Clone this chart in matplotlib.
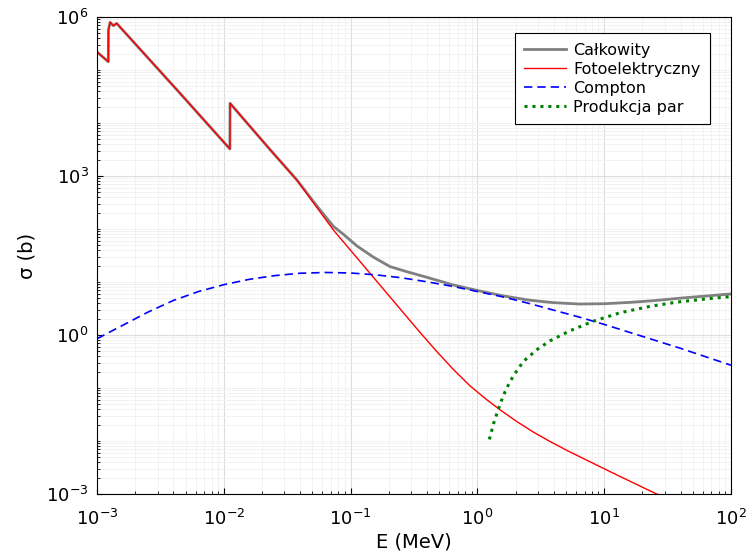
import matplotlib
matplotlib.use("Agg")
import matplotlib.pyplot as plt
import numpy as np

# values, stored as log10(E [MeV]) and log10(sigma [b])
photo_logE = [-3.0, -2.911, -2.910, -2.897, -2.871, -2.845, -2.345, -1.952, -1.951,
              -1.636, -1.425, -1.136, -0.847, -0.715, -0.584, -0.453, -0.321, -0.19,
              -0.058, 0.073, 0.178, 0.309, 0.44, 0.573, 0.704, 0.835, 0.967, 1.098,
              1.23, 1.4, 2.0]
photo_logS = [5.34, 5.157, 5.755, 5.90, 5.836, 5.88, 4.56, 3.51, 4.372,
              3.50, 2.925, 1.981, 1.164, 0.79, 0.42, 0.05, -0.31, -0.65,
              -0.96, -1.22, -1.41, -1.63, -1.83, -2.01, -2.175, -2.33, -2.485, -2.638,
              -2.79, -2.985, -3.6]

total_logE = [-3.0, -2.911, -2.910, -2.897, -2.871, -2.845, -2.345, -1.952, -1.951,
              -1.636, -1.425, -1.268, -1.136, -1.057, -0.95, -0.821, -0.689, -0.55,
              -0.4, -0.2, 0.0, 0.2, 0.4, 0.6, 0.8, 1.0, 1.2, 1.4,
              1.6, 1.8, 2.0]
total_logS = [5.34, 5.157, 5.755, 5.90, 5.836, 5.88, 4.56, 3.51, 4.372,
              3.50, 2.93, 2.44, 2.05, 1.90, 1.68, 1.47, 1.29, 1.19,
              1.09, 0.95, 0.84, 0.74, 0.66, 0.61, 0.585, 0.59, 0.615, 0.65,
              0.695, 0.735, 0.775]

compton_logE = [-3.0, -2.8, -2.6, -2.4, -2.2, -2.0, -1.8, -1.6, -1.4, -1.2, -1.0,
                -0.8, -0.6, -0.4, -0.2, 0.0, 0.2, 0.4, 0.6, 0.8, 1.0, 1.2, 1.4,
                1.6, 1.8, 2.0]
compton_logS = [-0.07, 0.18, 0.43, 0.65, 0.82, 0.95, 1.05, 1.12, 1.165, 1.18, 1.17,
                1.135, 1.08, 1.005, 0.92, 0.82, 0.72, 0.60, 0.47, 0.34, 0.20, 0.05, -0.10,
                -0.25, -0.41, -0.57]

pair_logE = [0.094, 0.13, 0.165, 0.2, 0.231, 0.283, 0.362, 0.467, 0.573, 0.73, 0.914,
             1.125, 1.36, 1.572, 1.8, 2.0]
pair_logS = [-1.97, -1.65, -1.40, -1.17, -1.0, -0.77, -0.50, -0.28, -0.11, 0.08, 0.26,
             0.42, 0.54, 0.62, 0.68, 0.725]

fig, ax = plt.subplots(figsize=(7.47, 5.58), dpi=100)
fig.subplots_adjust(left=0.1299, right=0.9786, top=0.9695, bottom=0.1147)

ax.plot(10**np.array(total_logE), 10**np.array(total_logS), color="gray", lw=2.0,
        label="Całkowity")
ax.plot(10**np.array(photo_logE), 10**np.array(photo_logS), color="red", lw=1.0,
        label="Fotoelektryczny")
ax.plot(10**np.array(compton_logE), 10**np.array(compton_logS), color="blue", lw=1.2,
        ls=(0, (5, 3)), label="Compton")
ax.plot(10**np.array(pair_logE), 10**np.array(pair_logS), color="green", lw=2.2,
        ls=(0, (1, 1.6)), label="Produkcja par")

ax.set_xscale("log")
ax.set_yscale("log")
ax.set_xlim(1e-3, 1e2)
ax.set_ylim(1e-3, 1e6)
ax.set_yticks([1e-3, 1e0, 1e3, 1e6])
ax.set_xticks([1e-3, 1e-2, 1e-1, 1e0, 1e1, 1e2])
ax.yaxis.set_minor_locator(matplotlib.ticker.LogLocator(base=10, subs=np.arange(1, 10), numticks=100))
ax.xaxis.set_minor_locator(matplotlib.ticker.LogLocator(base=10, subs=np.arange(2, 10), numticks=100))
ax.yaxis.set_minor_formatter(matplotlib.ticker.NullFormatter())

ax.grid(True, which="major", color="#dcdcdc", lw=0.8)
ax.grid(True, which="minor", color="#f0f0f0", lw=0.6)
ax.set_axisbelow(True)

ax.tick_params(which="both", direction="in", labelsize=13, top=False, right=False)
ax.tick_params(which="major", length=4)
ax.tick_params(which="minor", length=2)
ax.tick_params(axis="y", pad=6)
ax.tick_params(axis="x", pad=11)

ax.set_xlabel("E (MeV)", fontsize=14, labelpad=2)
ax.set_ylabel("σ (b)", fontsize=14, labelpad=7)

leg = ax.legend(loc="upper right", bbox_to_anchor=(0.967, 0.966), borderaxespad=0,
                fontsize=11.5, fancybox=False, edgecolor="black", framealpha=1.0,
                handlelength=2.6, handletextpad=0.45, borderpad=0.6, labelspacing=0.25)
leg.get_frame().set_linewidth(0.8)

fig.savefig("out.png", dpi=100)
